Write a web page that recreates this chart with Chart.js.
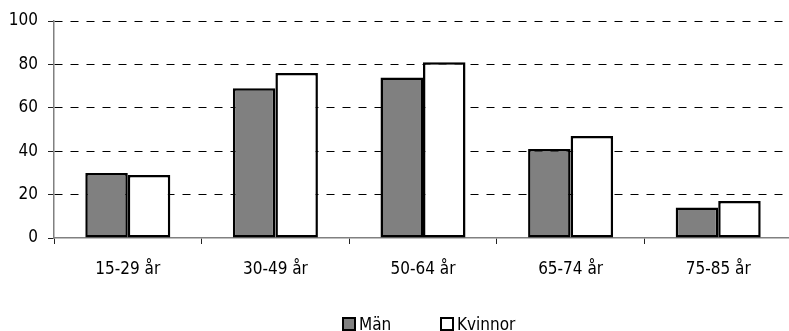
<!DOCTYPE html>
<html>
<head>
<meta charset="utf-8">
<script src="https://cdn.jsdelivr.net/npm/chart.js@4/dist/chart.umd.min.js"></script>
<style>
  html, body { margin: 0; padding: 0; background: #fff; overflow: hidden; }
  #wrap { position: relative; width: 789px; height: 331px; overflow: hidden; }
  canvas { position: absolute; left: 0; top: 0; }
  #legend { position: absolute; top: 314px; left: 0; width: 100%; height: 20px; font-family: "DejaVu Sans", sans-serif; font-stretch: condensed; font-size: 17px; color: #000; }
  .item { position: absolute; top: 0; display: flex; align-items: center; height: 20px; }
  .box { width: 10px; height: 10px; border: 2px solid #000; margin-right: 3px; }
</style>
</head>
<body>
<div id="wrap">
  <canvas id="c" width="800" height="331"></canvas>
  <div id="legend"></div>
</div>
<script>
const categories = ["15-29 år", "30-49 år", "50-64 år", "65-74 år", "75-85 år"];
const seriesNames = ["Män", "Kvinnor"];
const man = [30, 69, 74, 41, 14];
const kvinnor = [29, 76, 81, 47, 17];
const yTicks = [0, 20, 40, 60, 80, 100];

const fillColors = ["#808080", "#ffffff"];
// "condensed" goes in the weight slot so the canvas font shorthand picks the narrow face
const tickFont = { family: "'DejaVu Sans', sans-serif", size: 17, weight: "condensed" };
const AXIS_GRAY = "#808080";

const chart = new Chart(document.getElementById("c"), {
  type: "bar",
  data: {
    labels: categories,
    datasets: [
      { label: seriesNames[0], data: man, backgroundColor: fillColors[0], borderColor: "#000", borderWidth: 2.5, borderSkipped: false },
      { label: seriesNames[1], data: kvinnor, backgroundColor: fillColors[1], borderColor: "#000", borderWidth: 2.5, borderSkipped: false }
    ]
  },
  options: {
    responsive: false,
    animation: false,
    layout: { padding: { top: 21, left: 0, right: 8, bottom: 0 } },
    plugins: { legend: { display: false }, tooltip: { enabled: false } },
    datasets: { bar: { barPercentage: 1.0, categoryPercentage: 0.576 } },
    scales: {
      x: {
        offset: true,
        grid: { display: true, offset: true, drawOnChartArea: false, tickLength: 6, tickColor: "#222", lineWidth: 1 },
        border: { color: AXIS_GRAY, width: 1.5 },
        ticks: { color: "#000", font: tickFont, padding: 15, maxRotation: 0 },
        afterFit: s => { s.height = 93; }
      },
      y: {
        min: 0,
        max: 100,
        afterBuildTicks: s => { s.ticks = yTicks.map(v => ({ value: v })); },
        grid: {
          color: c => (c.tick && c.tick.value === 0) ? "rgba(0,0,0,0)" : "#000",
          lineWidth: 1,
          tickBorderDash: [],
          tickColor: "#222",
          tickLength: 6
        },
        border: { color: AXIS_GRAY, width: 1.5, dash: [8, 8] },
        ticks: { color: "#000", font: tickFont, padding: 10 },
        afterFit: s => { s.width = 54; }
      }
    }
  }
});

// legend built from the dataset names and fills
const legend = document.getElementById("legend");
const lefts = [342, 440];
seriesNames.forEach((name, i) => {
  const item = document.createElement("div");
  item.className = "item";
  item.style.left = lefts[i] + "px";
  const box = document.createElement("span");
  box.className = "box";
  box.style.background = fillColors[i];
  const txt = document.createElement("span");
  txt.textContent = name;
  item.appendChild(box);
  item.appendChild(txt);
  legend.appendChild(item);
});
</script>
</body>
</html>
